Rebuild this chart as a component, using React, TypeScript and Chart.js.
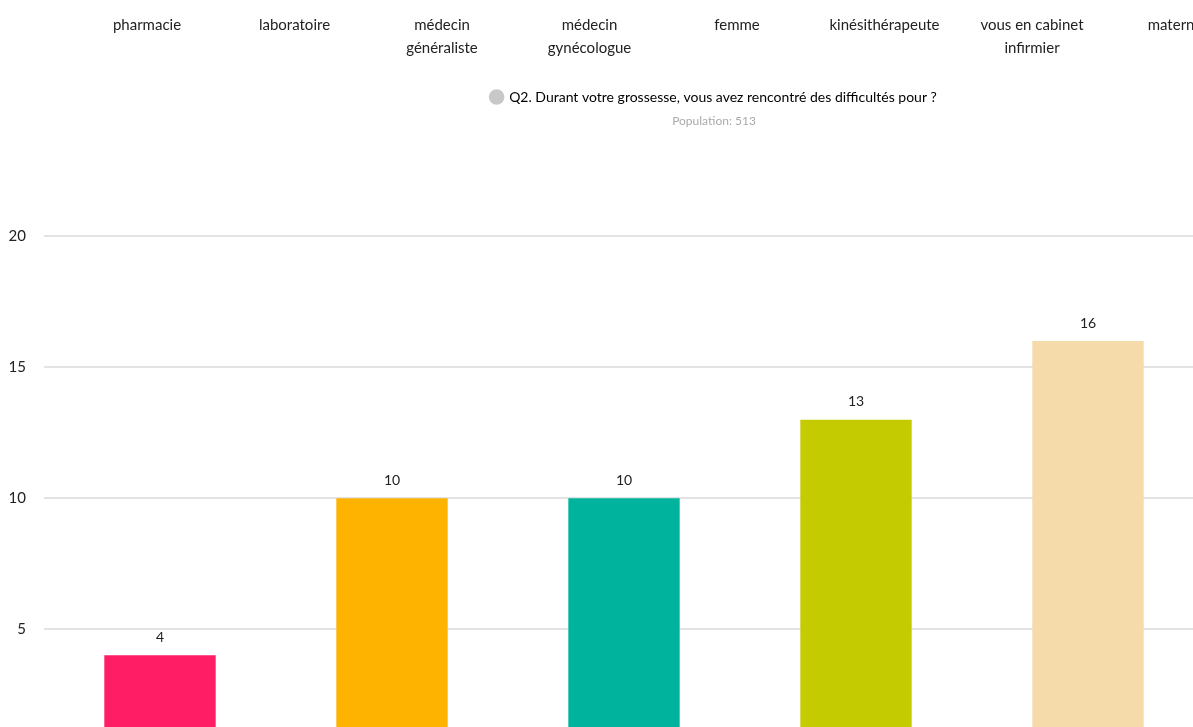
import React, { useEffect, useRef } from "react";
import { Chart, registerables } from "chart.js";

Chart.register(...registerables);

// ---- data ----
const categories = ["Catégorie 1", "Catégorie 2", "Catégorie 3", "Catégorie 4", "Catégorie 5"];
const values = [4, 10, 10, 13, 16];
const barColors = ["#FF1D65", "#FDB300", "#00B39D", "#C4CB00", "#F5DBAA"];
const yMin = 0;
const yMax = 20;
const yStep = 5;
const legendLabel = "Q2. Durant votre grossesse, vous avez rencontré des difficultés pour ?";
const legendColor = "#C8C8C8";
const subtitleText = "Population: 513";
const topLabels: string[][] = [
  ["pharmacie"],
  ["laboratoire"],
  ["médecin", "généraliste"],
  ["médecin", "gynécologue"],
  ["femme"],
  ["kinésithérapeute"],
  ["vous en cabinet", "infirmier"],
  ["maternité"],
];

// ---- layout ----
const CANVAS_W = 1420;
const CANVAS_H = 800;
const FONT = "Lato, 'Noto Sans', sans-serif";
const TOP_FIRST = 147;
const TOP_STEP = 147.5;
const TEXT_DARK = "#222222";

const valueLabels = {
  id: "valueLabels",
  afterDatasetsDraw(chart: any) {
    const ctx = chart.ctx;
    const meta = chart.getDatasetMeta(0);
    ctx.save();
    ctx.font = `14px ${FONT}`;
    ctx.fillStyle = TEXT_DARK;
    ctx.textAlign = "center";
    ctx.textBaseline = "middle";
    meta.data.forEach((bar: any, i: number) => {
      ctx.fillText(String(values[i]), bar.x, bar.y - 18);
    });
    ctx.restore();
  },
};

export default function App() {
  const canvasRef = useRef<HTMLCanvasElement | null>(null);

  useEffect(() => {
    if (!canvasRef.current) return;
    const chart = new Chart(canvasRef.current, {
      type: "bar",
      data: {
        labels: categories,
        datasets: [
          {
            label: legendLabel,
            data: values,
            backgroundColor: barColors,
            borderWidth: 0,
            barPercentage: 0.48,
            categoryPercentage: 1,
          },
        ],
      },
      options: {
        animation: false,
        responsive: false,
        events: [],
        layout: { padding: { top: 80, left: 8, right: 0, bottom: 40 } },
        plugins: {
          legend: {
            display: true,
            position: "top",
            labels: {
              usePointStyle: true,
              boxWidth: 11,
              boxHeight: 11,
              padding: 10,
              color: TEXT_DARK,
              font: { family: FONT, size: 14 },
              generateLabels: () => [
                {
                  text: legendLabel,
                  fillStyle: legendColor,
                  strokeStyle: legendColor,
                  lineWidth: 0,
                  pointStyle: "circle",
                  hidden: false,
                  datasetIndex: 0,
                } as any,
              ],
            },
          },
          subtitle: {
            display: true,
            text: subtitleText,
            color: "#AAAAAA",
            font: { family: FONT, size: 12, weight: "normal" },
            padding: { top: 0, bottom: 108 },
            weight: 500,
          } as any,
          title: { display: false },
          tooltip: { enabled: false },
        },
        scales: {
          x: {
            display: false,
            grid: { display: false },
          },
          y: {
            min: yMin,
            max: yMax,
            position: "left",
            afterFit: (s: any) => {
              s.width = 36;
            },
            border: { display: false },
            grid: { color: "#E3E3E3", lineWidth: 2, drawTicks: false },
            ticks: {
              stepSize: yStep,
              padding: 18,
              color: TEXT_DARK,
              font: { family: FONT, size: 15 },
            },
          },
          yRight: {
            type: "linear",
            position: "right",
            display: true,
            afterFit: (s: any) => {
              s.width = 216;
            },
            border: { display: false },
            grid: { display: false },
            ticks: { display: false },
          },
        },
      },
      plugins: [valueLabels],
    } as any);
    return () => chart.destroy();
  }, []);

  return (
    <div
      style={{
        position: "fixed",
        left: 0,
        top: 0,
        width: "100vw",
        height: "100vh",
        overflow: "hidden",
        background: "#ffffff",
        fontFamily: FONT,
      }}
    >
      <canvas
        ref={canvasRef}
        width={CANVAS_W}
        height={CANVAS_H}
        style={{ position: "absolute", left: 0, top: 0, width: CANVAS_W, height: CANVAS_H }}
      />
      {topLabels.map((lines, i) => (
        <div
          key={i}
          style={{
            position: "absolute",
            top: 13,
            left: TOP_FIRST + TOP_STEP * i,
            transform: "translateX(-50%)",
            textAlign: "center",
            whiteSpace: "nowrap",
            fontSize: 15,
            lineHeight: "23px",
            color: TEXT_DARK,
          }}
        >
          {lines.map((l, j) => (
            <div key={j}>{l}</div>
          ))}
        </div>
      ))}
    </div>
  );
}
